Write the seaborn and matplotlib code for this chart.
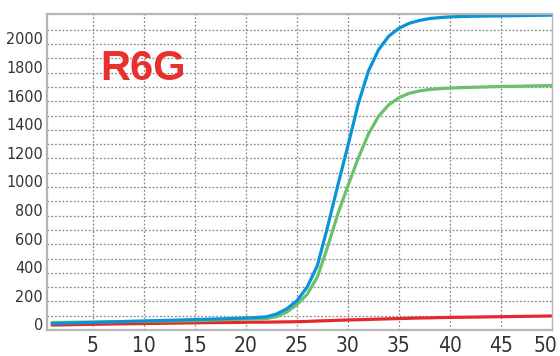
import numpy as np
import pandas as pd
import matplotlib.pyplot as plt
import matplotlib.transforms as mtransforms
import seaborn as sns

# cycle numbers and fluorescence
cycles = list(range(1, 51))

blue = [45, 47, 49, 51, 53, 55, 57, 59, 61, 63,
        65, 67, 69, 71, 73, 75, 77, 79, 81, 84,
        87, 92, 112, 148, 205, 300, 450, 720, 1010, 1290,
        1580, 1810, 1960, 2055, 2110, 2145, 2165, 2178, 2185, 2190,
        2192, 2194, 2195, 2196, 2197, 2198, 2199, 2200, 2201, 2202]

green = [52, 53, 54, 55, 56, 57, 58, 59, 60, 61,
         62, 63, 64, 65, 66, 68, 70, 72, 74, 76,
         78, 80, 93, 125, 178, 250, 370, 580, 810, 1010,
         1200, 1370, 1495, 1575, 1625, 1655, 1672, 1682, 1688, 1692,
         1695, 1697, 1699, 1701, 1703, 1704, 1705, 1707, 1708, 1710]

red = [35, 36, 37, 39, 40, 41, 42, 43, 44, 45,
       46, 47, 48, 49, 50, 51, 52, 52, 53, 54,
       55, 55, 56, 57, 58, 60, 63, 65, 68, 70,
       72, 74, 76, 78, 80, 82, 84, 85, 87, 88,
       89, 90, 91, 92, 93, 94, 95, 96, 97, 98]

y_ticks = [0, 200, 400, 600, 800, 1000, 1200, 1400, 1600, 1800, 2000]
x_ticks = [5, 10, 15, 20, 25, 30, 35, 40, 45, 50]

df = pd.DataFrame({
    'cycle': cycles * 3,
    'rfu': blue + green + red,
    'dye': ['blue'] * 50 + ['green'] * 50 + ['red'] * 50,
})

sns.set_style("white")
plt.rcParams['font.family'] = ['DejaVu Sans']
plt.rcParams['font.stretch'] = 'condensed'

fig = plt.figure(figsize=(5.6, 3.56), dpi=100)
ax = fig.add_axes([47 / 560, 26 / 356, 505 / 560, 316 / 356])

sns.lineplot(data=df, x='cycle', y='rfu', hue='dye',
             palette={'blue': '#0a94d8', 'green': '#6cc06c', 'red': '#e5282d'},
             hue_order=['red', 'green', 'blue'],
             linewidth=2.3, legend=False, ax=ax)

ax.set_xlim(0.5, 50)
ax.set_ylim(0, 2210)

# dotted grid every 100 / every 5 cycles
for v in range(100, 2200, 100):
    ax.axhline(v, color='#8a8a8a', lw=0.9, ls=(0, (1.5, 1.5)), zorder=0)
for v in x_ticks[:-1]:
    ax.axvline(v, color='#8a8a8a', lw=0.9, ls=(0, (1.5, 1.5)), zorder=0)

ax.set_xticks(x_ticks)
ax.set_yticks(y_ticks)
ax.tick_params(axis='both', length=0)
ax.tick_params(axis='y', labelsize=11.5, pad=3, labelcolor='#333333')
ax.tick_params(axis='x', labelsize=15, pad=4, labelcolor='#333333')
offset = mtransforms.ScaledTranslation(0, 4 / 72, fig.dpi_scale_trans)
for lab in ax.get_yticklabels():
    lab.set_transform(lab.get_transform() + offset)
# last x label sits against the right edge
last = ax.get_xticklabels()[-1]
last.set_ha('right')
last.set_transform(last.get_transform() +
                   mtransforms.ScaledTranslation(4 / 72, 0, fig.dpi_scale_trans))
ax.set_xlabel('')
ax.set_ylabel('')

for side in ['left', 'top', 'bottom']:
    ax.spines[side].set_color('#b5b5b5')
    ax.spines[side].set_linewidth(1.6)
ax.spines['right'].set_color('#b5b5b5')
ax.spines['right'].set_linewidth(1.0)

ax.text(0.105, 0.791, 'R6G', transform=ax.transAxes, ha='left', va='baseline',
        fontsize=30, fontweight='bold', color='#e8312f', family='Liberation Sans',
        stretch='normal')

fig.savefig('out.png', dpi=100)
